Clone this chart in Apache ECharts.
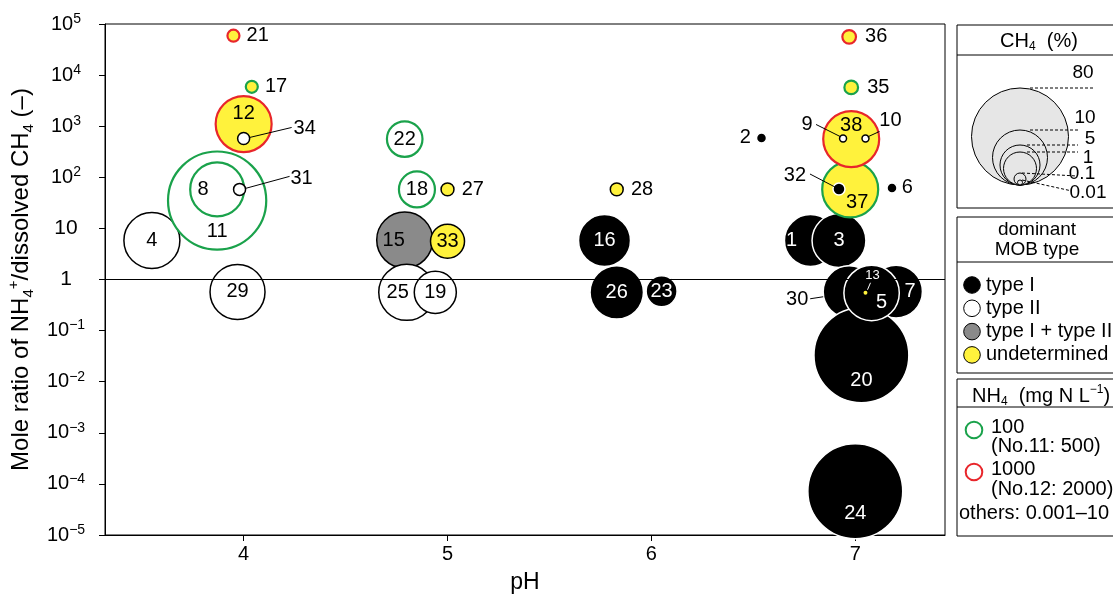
<!DOCTYPE html>
<html><head><meta charset="utf-8">
<script src="https://cdn.jsdelivr.net/npm/echarts@6/dist/echarts.min.js"></script>
<style>html,body{margin:0;padding:0;background:#fff}#c{width:1113px;height:598px}</style>
</head><body><div id="c"></div>
<script>
// ---------------- data ----------------
const ids   = ['4','11','8','29','12','34','31','21','17','22','18','27','15','25','19','33','28','16','26','23','2','1','3','37','38','9','10','32','6','36','35','30','7','20','5','13','24'];
const pH    = [3.55,3.87,3.87,3.97,4.00,4.00,3.98,3.95,4.04,4.79,4.85,5.00,4.79,4.80,4.94,5.00,5.83,5.77,5.83,6.05,6.54,6.78,6.92,6.975,6.98,6.94,7.05,6.92,7.18,6.97,6.98,6.97,7.20,7.03,7.08,7.05,7.00];
const ratio = [5.8,35,58,0.57,1100,575,58,59000,5900,560,58,58,5.9,0.56,0.56,5.6,58,5.8,0.56,0.59,590,5.8,5.8,58,560,575,575,59,62,56000,5750,0.575,0.58,0.033,0.545,0.55,0.000072];
const ch4   = [10.5,85,9.5,10,10.5,0.1,0.1,0.1,0.1,1.8,2.0,0.11,10.5,10.5,5.5,1.26,0.11,8.7,9.3,0.8,0.052,8.7,9.5,10.5,10.5,0.019,0.019,0.1,0.052,0.12,0.12,8.7,9,72,10.2,0.007,72];
const mob   = ['II','II','II','II','U','II','II','U','U','II','II','U','I+II','II','II','U','U','I','I','I','I','I','I','U','U','II','II','I','I','U','U','I','I','I','I','U','I'];
const nh4   = [0,100,100,0,1000,0,0,1000,100,100,100,0,0,0,0,0,0,0,0,0,0,0,0,100,1000,0,0,0,0,1000,100,0,0,0,0,0,0];
const xTicks = [4,5,6,7];
const yTicks = [1e-5,1e-4,1e-3,1e-2,1e-1,1,10,1e2,1e3,1e4,1e5];
const ch4LegendValues = [80,10,5,1,0.1,0.01];
const mobLegendTypes = ['I','II','I+II','U'];
const mobLegendNames = ['type I','type II','type I + type II','undetermined'];

// ---------------- styles ----------------
const FONT = 'Liberation Sans';
const GREEN = '#1aa24b', RED = '#e8262b';
const mobStyle = {
  'I':    {fill:'#000000', stroke:'#ffffff'},
  'II':   {fill:'#ffffff', stroke:'#000000'},
  'I+II': {fill:'#8a8a8a', stroke:'#000000'},
  'U':    {fill:'#fff23c', stroke:'#000000'}
};
const anchors = [[0.01,2.5],[0.1,6],[1,16.5],[5,20],[10,27.5],[80,48.5]];
function radius(v){
  const l = Math.log10(v);
  let i = 0;
  for (i = 0; i < anchors.length - 2; i++) { if (l <= Math.log10(anchors[i+1][0])) break; }
  const [v0,r0] = anchors[i], [v1,r1] = anchors[i+1];
  const t = (l - Math.log10(v0)) / (Math.log10(v1) - Math.log10(v0));
  return r0 + t * (r1 - r0);
}
const labelCfg = {
 '21':{pos:'right',d:6}, '17':{pos:'right',d:6}, '27':{pos:'right',d:7}, '28':{pos:'right',d:7},
 '36':{pos:'right',d:8}, '35':{pos:'right',d:8}, '6':{pos:'right',d:4}, '2':{pos:'left',d:5},
 '12':{off:[0,-11]}, '34':{off:[61,-10]}, '31':{off:[62,-11]}, '8':{off:[-14,0]}, '11':{off:[0,31]},
 '15':{off:[-11,0]}, '25':{off:[-9,0]}, '38':{off:[0,-14]}, '9':{off:[-36,-14]}, '10':{off:[25,-18]},
 '32':{off:[-44,-14], color:'#000'}, '37':{off:[7,13]}, '1':{off:[-19,0]}, '30':{off:[-52,8], color:'#000'},
 '5':{off:[10,10]}, '7':{off:[14,0]}, '13':{off:[7,-17], fs:13, color:'#fff'}, '20':{off:[0,25]}, '24':{off:[0,22]}
};
const leaders = {
 '34':{a:[6,-1],b:[48,-11]}, '31':{a:[6,-1],b:[50,-13]}, '9':{a:[-2,-1.5],b:[-27,-14]},
 '10':{a:[2,-1.5],b:[14,-7]}, '32':{a:[-4,-2],b:[-29,-15]}, '30':{a:[-26,5],b:[-39,7]},
 '13':{a:[2,-3],b:[5,-10],c:'#fff'}
};

const data = ids.map((id,i)=>{
  const r = radius(ch4[i]);
  const ring = nh4[i]===100 ? GREEN : (nh4[i]===1000 ? RED : null);
  const st = mobStyle[mob[i]];
  const lc = labelCfg[id] || {};
  const label = {show:true, formatter:id, fontSize: lc.fs || 20, fontFamily: FONT,
    color: lc.color || ((mob[i]==='I' && !lc.pos) ? '#fff' : '#000')};
  if (lc.pos) { label.position = lc.pos; label.distance = lc.d; }
  else { label.position = 'inside'; label.offset = lc.off || [0,0]; }
  return {value:[pH[i], ratio[i]], symbolSize: 2*r,
    itemStyle:{color: st.fill, opacity:1, borderColor: ring || st.stroke, borderWidth: ring ? 2.2 : (r < 3 ? 0 : 1.5)},
    label};
});

function yLab(v){
  const e = Math.round(Math.log10(v));
  if (e === 0) return '{p|1}';
  if (e === 1) return '{p|10}';
  return '{b|10}{s|' + (e < 0 ? '\u2212' + (-e) : e) + '}';
}

const chart = echarts.init(document.getElementById('c'), null, {renderer:'canvas'});
const option = {
  animation:false,
  backgroundColor:'#fff',
  textStyle:{fontFamily:FONT},
  grid:{left:105, right:168, top:24, bottom:63, outerBoundsMode:'none', containLabel:false,
        show:true, borderColor:'#000', borderWidth:1, backgroundColor:'transparent'},
  xAxis:{type:'value', min:3.32, max:7.44,
    axisLine:{show:true, lineStyle:{color:'#000', width:1}},
    axisTick:{show:true, customValues:xTicks, length:6, lineStyle:{color:'#000'}},
    axisLabel:{show:true, customValues:xTicks, fontSize:20, color:'#000', margin:9, fontFamily:FONT},
    splitLine:{show:false},
    name:'pH', nameLocation:'middle', nameGap:36, nameTextStyle:{fontSize:23, color:'#000', fontFamily:FONT}},
  yAxis:{type:'log', logBase:10, min:1e-5, max:1e5,
    axisLine:{show:true, lineStyle:{color:'#000', width:1}},
    axisTick:{show:true, customValues:yTicks, length:6, lineStyle:{color:'#000'}},
    minorTick:{show:false},
    splitLine:{show:false},
    axisLabel:{show:true, customValues:yTicks, formatter:yLab, align:'center', margin:39, color:'#000', fontFamily:FONT,
      rich:{p:{fontSize:21, fontFamily:FONT, color:'#000', lineHeight:24},
            b:{fontSize:20, fontFamily:FONT, color:'#000', lineHeight:24},
            s:{fontSize:14, fontFamily:FONT, color:'#000', verticalAlign:'top', lineHeight:14}}},
    name:'Mole ratio of NH{sub|4}{sup|+}/dissolved CH{sub|4} (\u2013)', nameLocation:'middle', nameGap:61,
    nameTextStyle:{fontSize:24, color:'#000', fontFamily:FONT, lineHeight:30,
      rich:{sub:{fontSize:15, fontFamily:FONT, color:'#000', verticalAlign:'bottom', lineHeight:15},
            sup:{fontSize:15, fontFamily:FONT, color:'#000', verticalAlign:'top', lineHeight:15}}}},
  series:[
    {type:'line', data:[], z:1, silent:true,
     markLine:{silent:true, symbol:'none', label:{show:false}, lineStyle:{color:'#000', width:1.2, type:'solid'},
       data:[{yAxis:1}]}},
    {type:'scatter', symbol:'circle', data:data, z:3, silent:true, emphasis:{disabled:true}}
  ]
};
chart.setOption(option);

// ---------------- legend panels + leader lines ----------------
const g = [];
function txt(x,y,text,opt){ return Object.assign({type:'text', z:50, style:Object.assign({x:x, y:y, text:text, font:'20px "'+FONT+'"', fill:'#000', align:'left', verticalAlign:'middle'}, opt||{})}); }
// box 1: CH4
g.push({type:'rect', z:40, shape:{x:957,y:25,width:170,height:183}, style:{fill:'#fff', stroke:'#000', lineWidth:1}});
g.push({type:'line', z:41, shape:{x1:957,y1:55,x2:1113,y2:55}, style:{stroke:'#000', lineWidth:1}});
g.push({type:'text', z:50, style:{x:1039, y:41, text:'{a|CH}{s|4}{a|  (%)}', align:'center', verticalAlign:'middle',
  rich:{a:{font:'20px "'+FONT+'"', fill:'#000', lineHeight:24}, s:{font:'12px "'+FONT+'"', fill:'#000', verticalAlign:'bottom', lineHeight:13}}}});
const cx = 1020, cb = 185;
ch4LegendValues.forEach(v=>{
  const r = radius(v);
  g.push({type:'circle', z:42, shape:{cx:cx, cy:cb - r, r:r}, style:{fill:'#e6e6e6', stroke:'#000', lineWidth:1}});
});
const legLines = {80:[1030,1093,0,[1083,73]], 10:[1030,1078,0,[1085,118]], 5:[1027,1078,0,[1090,139]], 1:[1027,1078,0,[1088,158]], 0.1:[1022,1077,3,[1082,174]], 0.01:[1022,1072,11,[1088,193]]};
ch4LegendValues.forEach(v=>{
  const L = legLines[v]; const y = cb - 2*radius(v);
  g.push({type:'line', z:45, shape:{x1:L[0], y1:y, x2:L[1], y2:y + L[2]}, style:{stroke:'#000', lineWidth:1, lineDash:[3,2]}});
  g.push(txt(L[3][0], L[3][1], String(v), {align:'center', font:'19px "'+FONT+'"'}));
});
// box 2: MOB type
g.push({type:'rect', z:40, shape:{x:957,y:217,width:170,height:156}, style:{fill:'#fff', stroke:'#000', lineWidth:1}});
g.push({type:'line', z:41, shape:{x1:957,y1:262,x2:1113,y2:262}, style:{stroke:'#000', lineWidth:1}});
g.push(txt(1037,230,'dominant',{align:'center', font:'19px "'+FONT+'"'}));
g.push(txt(1037,250,'MOB type',{align:'center', font:'19px "'+FONT+'"'}));
mobLegendTypes.forEach((t,k)=>{
  const y = 285 + k*23.3;
  g.push({type:'circle', z:42, shape:{cx:972, cy:y, r:8.3}, style:{fill:mobStyle[t].fill, stroke:'#000', lineWidth:1}});
  g.push(txt(986, y, mobLegendNames[k]));
});
// box 3: NH4
g.push({type:'rect', z:40, shape:{x:957,y:379,width:170,height:157}, style:{fill:'#fff', stroke:'#000', lineWidth:1}});
g.push({type:'line', z:41, shape:{x1:957,y1:407,x2:1113,y2:407}, style:{stroke:'#000', lineWidth:1}});
g.push({type:'text', z:50, style:{x:972, y:396, text:'{a|NH}{s|4}{a|  (mg N L}{p|\u22121}{a|)}', align:'left', verticalAlign:'middle',
  rich:{a:{font:'20px "'+FONT+'"', fill:'#000', lineHeight:24}, s:{font:'12px "'+FONT+'"', fill:'#000', verticalAlign:'bottom', lineHeight:13}, p:{font:'12px "'+FONT+'"', fill:'#000', verticalAlign:'top', lineHeight:13}}}});
g.push({type:'circle', z:42, shape:{cx:974, cy:430, r:8.3}, style:{fill:'#fff', stroke:GREEN, lineWidth:2}});
g.push(txt(991,427,'100'));
g.push(txt(991,446,'(No.11: 500)'));
g.push({type:'circle', z:42, shape:{cx:974, cy:472, r:8.3}, style:{fill:'#fff', stroke:RED, lineWidth:2}});
g.push(txt(991,469,'1000'));
g.push(txt(991,489,'(No.12: 2000)'));
g.push(txt(959,513,'others: 0.001\u201310'));

// leader lines, anchored at the plotted points
Object.keys(leaders).forEach(id=>{
  const i = ids.indexOf(id);
  const p = chart.convertToPixel({gridIndex:0}, [pH[i], ratio[i]]);
  const L = leaders[id];
  g.push({type:'line', z:100, shape:{x1:p[0]+L.a[0], y1:p[1]+L.a[1], x2:p[0]+L.b[0], y2:p[1]+L.b[1]}, style:{stroke:L.c || '#000', lineWidth:1}});
});
chart.setOption({graphic:g});
</script>
</body></html>
